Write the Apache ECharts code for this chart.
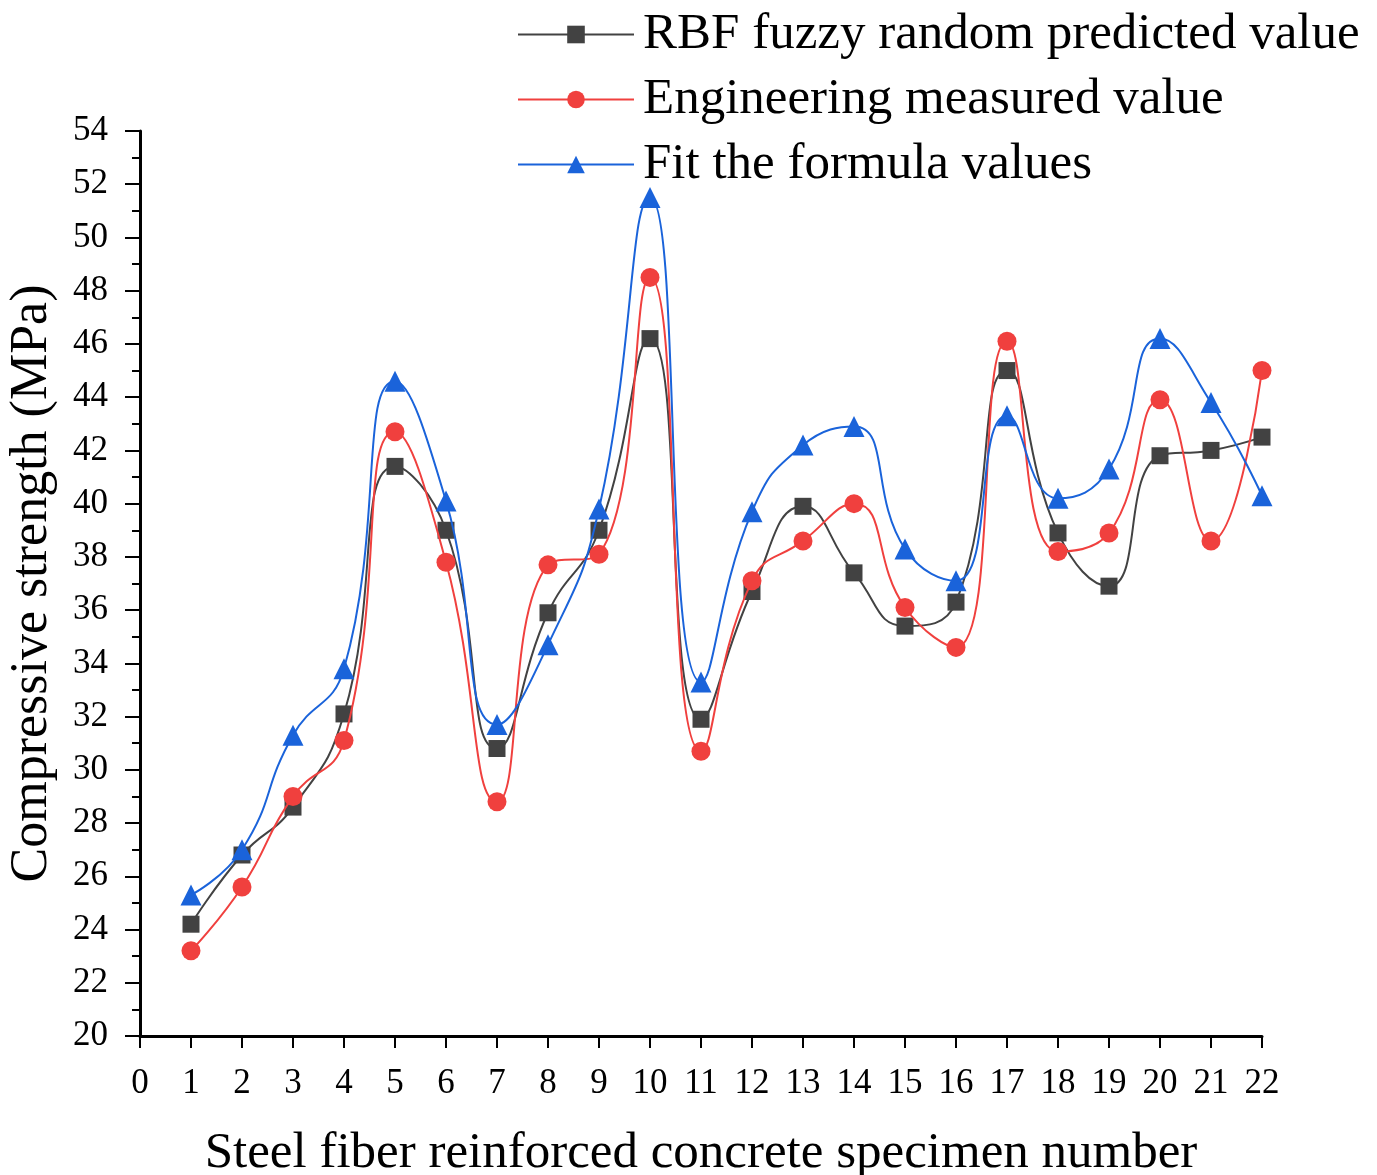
<!DOCTYPE html>
<html>
<head>
<meta charset="utf-8">
<script src="https://cdn.jsdelivr.net/npm/echarts@6/dist/echarts.min.js"></script>
<style>
  html, body { margin: 0; padding: 0; background: #fff; }
  #chart { width: 1377px; height: 1175px; }
</style>
</head>
<body>
<div id="chart"></div>
<script>
// Specimen numbers 1..22
const specimens = [1, 2, 3, 4, 5, 6, 7, 8, 9, 10, 11, 12, 13, 14, 15, 16, 17, 18, 19, 20, 21, 22];

// Compressive strength (MPa) per specimen
const rbfPredicted = [24.2, 26.8, 28.6, 32.1, 41.4, 39.0, 30.8, 35.9, 39.0, 46.2, 31.9, 36.7,
                      39.9, 37.4, 35.4, 36.3, 45.0, 38.9, 36.9, 41.8, 42.0, 42.5];
const measured     = [23.2, 25.6, 29.0, 31.1, 42.7, 37.8, 28.8, 37.7, 38.1, 48.5, 30.7, 37.1,
                      38.6, 40.0, 36.1, 34.6, 46.1, 38.2, 38.9, 43.9, 38.6, 45.0];
const fitFormula   = [25.3, 27.0, 31.3, 33.8, 44.6, 40.1, 31.7, 34.7, 39.8, 51.5, 33.3, 39.7,
                      42.2, 42.9, 38.3, 37.1, 43.3, 40.2, 41.3, 46.2, 43.8, 40.3];

const seriesNames = ['RBF fuzzy random predicted value', 'Engineering measured value', 'Fit the formula values'];
const seriesColors = ['#424242', '#F0403E', '#1A63DA'];
const seriesSymbols = ['rect', 'circle', 'triangle'];
const seriesSizes = [17, 19, 21];
const seriesValues = [rbfPredicted, measured, fitFormula];

const serif = '"Liberation Serif", "Times New Roman", serif';

const chart = echarts.init(document.getElementById('chart'), null, { renderer: 'canvas' });

chart.setOption({
  backgroundColor: '#ffffff',
  animation: false,
  grid: {
    left: 140, right: 115, top: 131, bottom: 139,
    containLabel: false,
    outerBoundsMode: 'none'
  },
  legend: {
    orient: 'vertical',
    left: 512,
    top: 4,
    itemWidth: 116,
    itemHeight: 22,
    itemGap: 14,
    textStyle: { fontFamily: serif, fontSize: 51, color: '#000', lineHeight: 50, padding: [0, 0, 0, 4] },
    data: seriesNames
  },
  xAxis: {
    type: 'value',
    min: 0,
    max: 22,
    interval: 1,
    name: 'Steel fiber reinforced concrete specimen number',
    nameLocation: 'middle',
    nameGap: 92,
    nameTextStyle: { fontFamily: serif, fontSize: 51, color: '#000' },
    axisLine: { show: true, onZero: false, lineStyle: { color: '#000', width: 3 } },
    axisTick: { show: true, inside: false, length: 12, lineStyle: { color: '#000', width: 2 } },
    minorTick: { show: false },
    axisLabel: { fontFamily: serif, fontSize: 35, color: '#000', margin: 30 },
    splitLine: { show: false }
  },
  yAxis: {
    type: 'value',
    min: 20,
    max: 54,
    interval: 2,
    name: 'Compressive strength (MPa)',
    nameLocation: 'middle',
    nameGap: 82,
    nameTextStyle: { fontFamily: serif, fontSize: 52, color: '#000' },
    axisLine: { show: true, onZero: false, lineStyle: { color: '#000', width: 3 } },
    axisTick: { show: true, inside: false, length: 15, lineStyle: { color: '#000', width: 2 } },
    minorTick: { show: true, splitNumber: 2, length: 8, lineStyle: { color: '#000', width: 2 } },
    axisLabel: { fontFamily: serif, fontSize: 35, color: '#000', margin: 32 },
    splitLine: { show: false }
  },
  series: seriesNames.map((name, i) => ({
    name: name,
    type: 'line',
    data: specimens.map((s, k) => [s, seriesValues[i][k]]),
    smooth: 0.5,
    symbol: seriesSymbols[i],
    symbolSize: seriesSizes[i],
    showAllSymbol: true,
    color: seriesColors[i],
    itemStyle: { color: seriesColors[i] },
    lineStyle: { color: seriesColors[i], width: 2 },
    z: 2 + i
  }))
});
</script>
</body>
</html>
